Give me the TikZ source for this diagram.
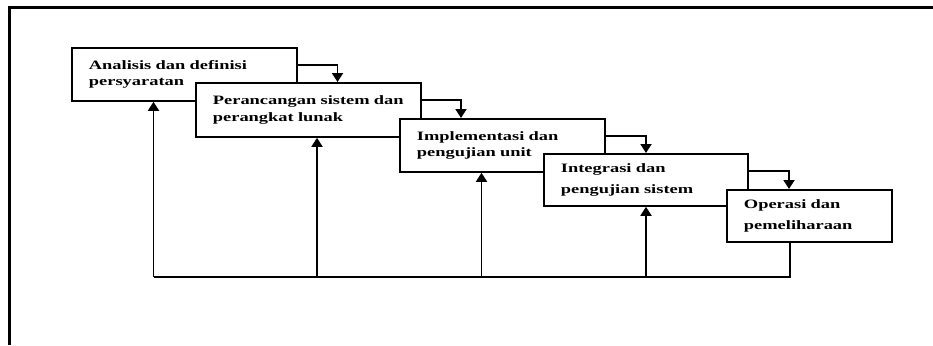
\documentclass[tikz,border=0pt]{standalone}
\usepackage{fontspec}
\usepackage{tikz}
\usetikzlibrary{arrows.meta}
\newfontfamily\stagefont[FakeStretch=1.44]{Liberation Serif}

\begin{document}
\begin{tikzpicture}[x=1pt, y=-1pt,
    stage/.style={rectangle, draw, fill=white, line width=1.8pt, anchor=north west, inner xsep=17pt, inner ysep=0pt, align=left, font=\stagefont\bfseries\fontsize{12.8}{16.5}\selectfont},
    flow/.style={line width=1.8pt, -{Triangle[length=9pt, width=11pt]}},
    back/.style={line width=1.8pt}]
        \useasboundingbox (0,0) rectangle (933,345);
        \draw [line width=3pt] (9,345) -- (9,8) -- (933,8);
        \node (1) at (71, 47) [stage, minimum width=225pt, minimum height=53pt, text width=191pt] {\makebox[191pt][s]{Analisis dan definisi}\\persyaratan\\[-3pt]};
        \node (2) at (195, 82) [stage, minimum width=225pt, minimum height=54pt, text width=191pt] {\mbox{Perancangan sistem dan}\\perangkat lunak};
        \node (3) at (399, 118) [stage, minimum width=205pt, minimum height=53pt, text width=171pt] {Implementasi dan\\pengujian unit};
        \node (4) at (543, 153) [stage, minimum width=204pt, minimum height=52pt, text width=170pt] {Integrasi dan\\[4pt]pengujian sistem};
        \node (5) at (726, 189) [stage, minimum width=165pt, minimum height=52pt, text width=131pt] {Operasi dan\\[4pt]pemeliharaan};
        \coordinate (f1) at (153.5, 277);
        \coordinate (f2) at (317, 277);
        \coordinate (f3) at (481.5, 277);
        \coordinate (f4) at (646, 277);
        \draw [flow] ([yshift=-18pt]1.north east) -| ([xshift=142.5pt]2.north west);
        \draw [flow] ([yshift=-18pt]2.north east) -| ([xshift=62pt]3.north west);
        \draw [flow] ([yshift=-18pt]3.north east) -| ([xshift=103pt]4.north west);
        \draw [flow] ([yshift=-18pt]4.north east) -| ([xshift=63pt]5.north west);
        \draw [back] ([xshift=64pt]5.south west) |- (f1);
        \draw [flow] (f1) -- (f1 |- 1.south);
        \draw [flow] (f2) -- (f2 |- 2.south);
        \draw [flow] (f3) -- (f3 |- 3.south);
        \draw [flow] (f4) -- (f4 |- 4.south);
    \end{tikzpicture}
\end{document}
